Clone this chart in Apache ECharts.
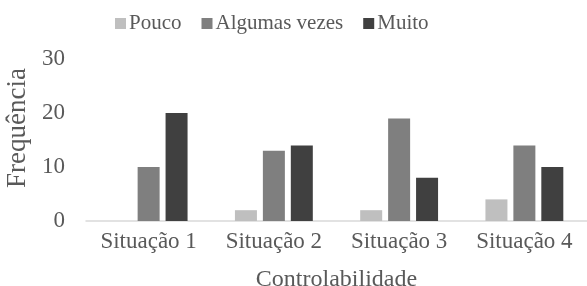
<!DOCTYPE html>
<html>
<head>
<meta charset="utf-8">
<script src="https://cdn.jsdelivr.net/npm/echarts@6/dist/echarts.min.js"></script>
<style>
  html, body { margin: 0; padding: 0; background: #fff; }
  #chart { width: 587px; height: 286px; }
</style>
</head>
<body>
<div id="chart"></div>
<script>
var categories = ['Situação 1', 'Situação 2', 'Situação 3', 'Situação 4'];
var pouco = [0, 2, 2, 4];
var algumas = [10, 13, 19, 14];
var muito = [20, 14, 8, 10];
var yTicks = { min: 0, max: 30, interval: 10 };

var font = '"Liberation Serif", "Times New Roman", serif';
var textColor = '#595959';

var chart = echarts.init(document.getElementById('chart'), null, { renderer: 'canvas' });

var option = {
  animation: false,
  textStyle: { fontFamily: font },
  legend: {
    top: 8,
    left: 110,
    itemWidth: 11,
    itemHeight: 11,
    itemGap: 20,
    icon: 'rect',
    textStyle: { fontFamily: font, fontSize: 21, color: textColor, padding: [0, 0, 0, -2] },
    data: ['Pouco', 'Algumas vezes', 'Muito']
  },
  grid: {
    left: 86,
    right: 0,
    top: 59,
    bottom: 65,
    outerBoundsMode: 'none'
  },
  xAxis: {
    type: 'category',
    data: categories,
    name: 'Controlabilidade',
    nameLocation: 'middle',
    nameGap: 47,
    nameTextStyle: { fontFamily: font, fontSize: 24, color: textColor },
    axisLine: { lineStyle: { color: '#d9d9d9', width: 1.5 } },
    axisTick: { show: false },
    axisLabel: { interval: 0, fontFamily: font, fontSize: 23, color: textColor, margin: 9 }
  },
  yAxis: {
    type: 'value',
    min: yTicks.min,
    max: yTicks.max,
    interval: yTicks.interval,
    name: 'Frequência',
    nameLocation: 'middle',
    nameGap: 47,
    nameTextStyle: { fontFamily: font, fontSize: 27, color: textColor, padding: [0, 0, 0, 24] },
    axisLine: { show: false },
    axisTick: { show: false },
    splitLine: { show: false },
    axisLabel: { fontFamily: font, fontSize: 23, color: textColor, margin: 21 }
  },
  series: [
    {
      name: 'Pouco',
      type: 'bar',
      data: pouco,
      barWidth: 22,
      barGap: '27%',
      itemStyle: { color: '#bfbfbf' }
    },
    {
      name: 'Algumas vezes',
      type: 'bar',
      data: algumas,
      barWidth: 22,
      barGap: '27%',
      itemStyle: { color: '#7f7f7f' }
    },
    {
      name: 'Muito',
      type: 'bar',
      data: muito,
      barWidth: 22,
      barGap: '27%',
      itemStyle: { color: '#404040' }
    }
  ]
};

chart.setOption(option);
window.addEventListener('resize', chart.resize);
</script>
</body>
</html>
